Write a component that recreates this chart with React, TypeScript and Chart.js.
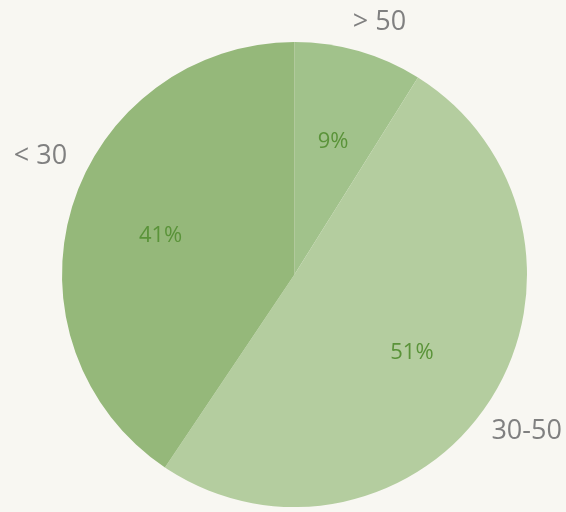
import React, { useEffect, useRef } from "react";
import { Chart, registerables } from "chart.js";

Chart.register(...registerables);

const categories = ["> 50", "30-50", "< 30"];
const shares = [9, 51, 41];
const sliceColors = ["#a1c28b", "#b4cd9f", "#95b87a"];

const labelPlugin = {
  id: "pieLabels",
  afterDatasetsDraw(chart: any, _args: any, opts: any) {
    const ctx = chart.ctx;
    const meta = chart.getDatasetMeta(0);
    const values = chart.data.datasets[0].data as number[];
    const labels = chart.data.labels as string[];
    meta.data.forEach((arc: any, i: number) => {
      const { x, y, startAngle, endAngle, outerRadius } = arc.getProps(
        ["x", "y", "startAngle", "endAngle", "outerRadius"],
        true
      );
      const mid = (startAngle + endAngle) / 2;
      const ri = outerRadius * opts.innerFactor;
      ctx.save();
      ctx.font = opts.innerFont;
      ctx.fillStyle = opts.innerColor;
      ctx.textAlign = "center";
      ctx.textBaseline = "middle";
      ctx.fillText(values[i] + "%", x + Math.cos(mid) * ri, y + Math.sin(mid) * ri + 2);
      const a = mid + (opts.outerAngleNudge[i] * Math.PI) / 180;
      const ro = outerRadius * opts.outerFactor[i];
      ctx.font = opts.outerFont;
      ctx.fillStyle = opts.outerColor;
      ctx.fillText(labels[i], x + Math.cos(a) * ro, y + Math.sin(a) * ro);
      ctx.restore();
    });
  },
};

export default function App() {
  const ref = useRef<HTMLCanvasElement | null>(null);
  useEffect(() => {
    if (!ref.current) return;
    const chart = new Chart(ref.current, {
      type: "pie",
      data: {
        labels: categories,
        datasets: [
          {
            data: shares,
            backgroundColor: sliceColors,
            borderWidth: 0,
          },
        ],
      },
      options: {
        responsive: false,
        animation: false,
        layout: { padding: { left: 62, right: 39, top: 42, bottom: 5 } },
        plugins: {
          legend: { display: false },
          tooltip: { enabled: false },
          pieLabels: {
            innerFactor: 0.602,
            innerFont: '22px "Open Sans"',
            innerColor: "#5a9339",
            outerFactor: [1.144, 1.204, 1.206],
            outerAngleNudge: [2.6, 1, 8.1],
            outerFont: '27px "Open Sans"',
            outerColor: "#808080",
          },
        } as any,
      },
      plugins: [labelPlugin],
    });
    return () => chart.destroy();
  }, []);
  return (
    <div
      style={{
        position: "absolute",
        left: 0,
        top: 0,
        width: 566,
        height: 512,
        background: "#f8f7f2",
      }}
    >
      <canvas ref={ref} width={566} height={512} />
    </div>
  );
}
